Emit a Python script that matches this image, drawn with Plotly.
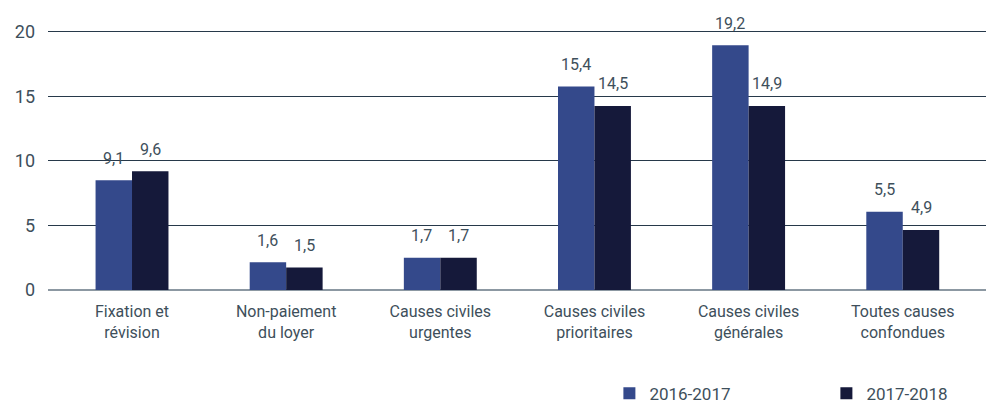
import plotly.graph_objects as go

categories = ["Fixation et<br>révision", "Non-paiement<br>du loyer", "Causes civiles<br>urgentes",
              "Causes civiles<br>prioritaires", "Causes civiles<br>générales", "Toutes causes<br>confondues"]
series_names = ["2016-2017", "2017-2018"]
# bar heights as drawn in the picture
values_2016 = [8.5, 2.15, 2.5, 15.75, 18.95, 6.05]
values_2017 = [9.2, 1.75, 2.5, 14.25, 14.25, 4.65]
# value labels as printed
labels_2016 = ["9,1", "1,6", "1,7", "15,4", "19,2", "5,5"]
labels_2017 = ["9,6", "1,5", "1,7", "14,5", "14,9", "4,9"]
y_ticks = [0, 5, 10, 15, 20]

colors = ["#34498b", "#15193a"]
text_color = "#3e4f5b"
font_family = "Roboto, 'Noto Sans', sans-serif"

fig = go.Figure()
for name, vals, col in zip(series_names, [values_2016, values_2017], colors):
    fig.add_trace(go.Bar(x=categories, y=vals, name=name, marker=dict(color=col, line=dict(width=0)),
                         hoverinfo="skip"))

for vals, labs, shift in [(values_2016, labels_2016, -18.5), (values_2017, labels_2017, 18.5)]:
    for c, v, t in zip(categories, vals, labs):
        fig.add_annotation(x=c, y=v, text=t, showarrow=False, xshift=shift, yshift=22,
                           yanchor="middle", font=dict(size=16, color=text_color, family=font_family))

fig.update_layout(
    width=986, height=405,
    margin=dict(l=48, r=0, t=29, b=115, autoexpand=False),
    paper_bgcolor="white", plot_bgcolor="white",
    barmode="group", bargap=0.527, bargroupgap=0,
    font=dict(family=font_family, color=text_color, size=16),
    showlegend=True,
    legend=dict(orientation="h", x=0.5985, xanchor="left", y=-0.397, yanchor="middle",
                entrywidth=172, entrywidthmode="pixels", itemsizing="constant",
                font=dict(size=17, color=text_color), bgcolor="rgba(0,0,0,0)",
                traceorder="normal"),
)
fig.update_xaxes(range=[-0.545, 5.54], showgrid=False, showline=False, ticks="",
                 ticklabelstandoff=10, tickfont=dict(size=16, color=text_color))
fig.update_yaxes(range=[0, 20.2], tickvals=y_ticks, ticktext=[str(v) for v in y_ticks],
                 showgrid=True, gridcolor="#27394a", gridwidth=1, zeroline=True,
                 zerolinecolor="#8c98a2", zerolinewidth=1.5, showline=False, ticks="",
                 ticklabelstandoff=12, tickfont=dict(size=18, color=text_color))

fig.write_html("out.html", config={"displayModeBar": False},
               post_script="document.body.style.margin='0';document.body.style.overflow='hidden';")
